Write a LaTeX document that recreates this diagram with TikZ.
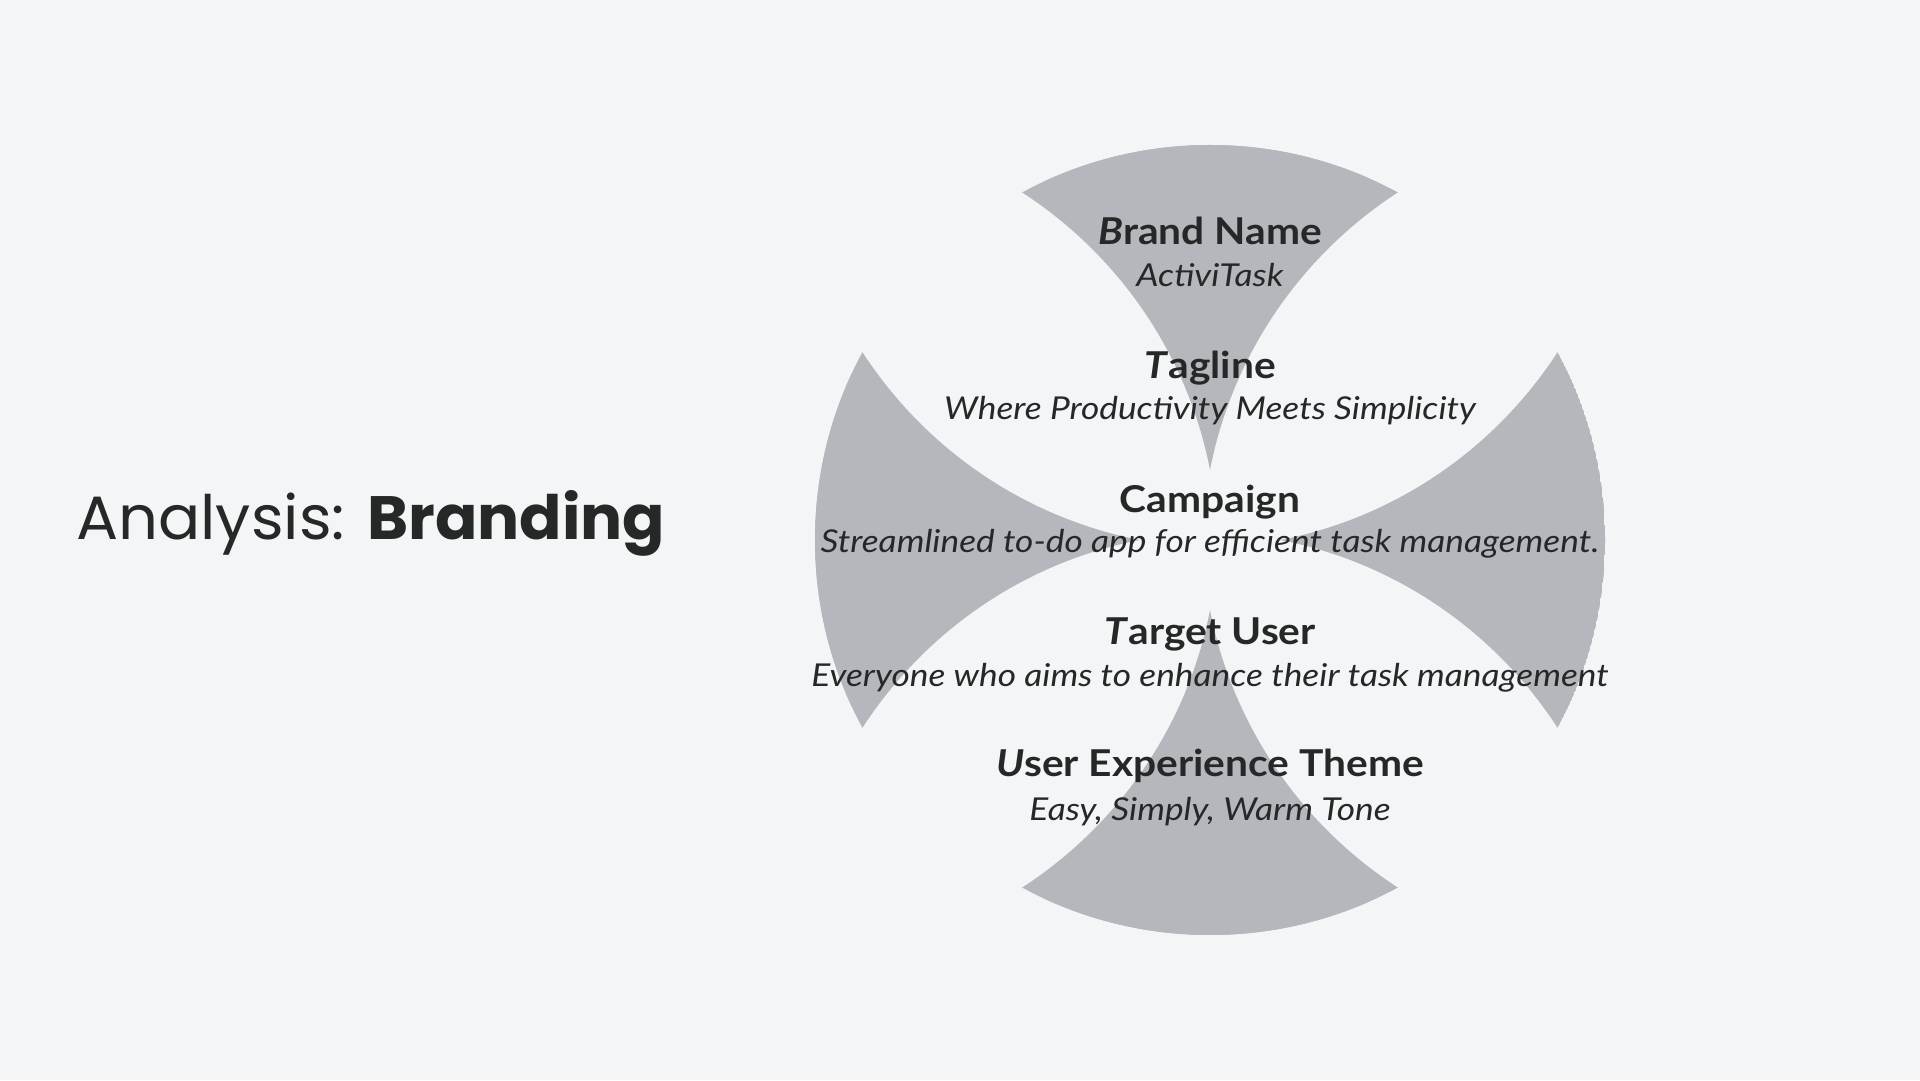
\documentclass[tikz,border=0pt]{standalone}
\usepackage{fontspec}
\usepackage{graphicx}
\setmainfont{Lato}
\newfontfamily\headfont{Lato}[FakeStretch=1.10]
\newfontfamily\valfont{Lato}[FakeStretch=1.12]
\newfontfamily\titlefont{Poppins}
\definecolor{bg}{HTML}{F4F5F7}
\definecolor{armgrey}{HTML}{B4B8BD}
\definecolor{ink}{HTML}{262828}
\tikzset{
  head/.style={anchor=base, text=ink, inner sep=0pt, font=\headfont\fontsize{37}{40}\selectfont\bfseries},
  val/.style={anchor=base, text=ink, inner sep=0pt, font=\valfont\fontsize{31.5}{34}\selectfont\itshape}
}
\newcommand\armpiece[4]{%
  \begin{scope}[even odd rule]
    \clip (C) circle (395);
    \clip (-600,-600) rectangle (2600,1700) (#1,#2) circle (428.2);
    \clip (-600,-600) rectangle (2600,1700) (#3,#4) circle (428.2);
    \fill[armgrey] (C) circle (395);
  \end{scope}}
\begin{document}
\begin{tikzpicture}[x=1pt,y=1pt]
\useasboundingbox (0,0) rectangle (1920,1080);
\fill[bg] (0,0) rectangle (1920,1080);
\coordinate (C) at (1210,540);
% vertical arms (top and bottom)
\armpiece{1630.3}{527.9}{789.7}{527.9}
\armpiece{1630.3}{552.1}{789.7}{552.1}
% horizontal arms (left and right)
\armpiece{1222.1}{960.3}{1222.1}{119.7}
\armpiece{1197.9}{960.3}{1197.9}{119.7}
% title
\node[anchor=base west, inner sep=0pt, text=ink] (title) at (76,540)
  {\resizebox{589pt}{49pt}{\titlefont Analysis: \textbf{Branding}}};
% texts
\node[head] (brand)   at (1210,835.7) {\textit{B}rand Name};
\node[val]  (brandv)  at (1210,793.3) {ActiviTask};
\node[head] (tag)     at (1210,701.7) {\textit{T}agline};
\node[val]  (tagv)    at (1210,660.7) {Where Productivity Meets Simplicity};
\node[head] (camp)    at (1210,567.3) {Campaign};
\node[val]  (campv)   at (1210,527.3) {Streamlined to-do app for efficient task management.};
\node[head] (target)  at (1210,435.7) {\textit{T}arget User};
\node[val]  (targetv) at (1210,393.3) {Everyone who aims to enhance their task management};
\node[head] (ux)      at (1210,303.3) {\textit{U}ser Experience Theme};
\node[val]  (uxv)     at (1210,260.0) {Easy, Simply, Warm Tone};
\end{tikzpicture}
\end{document}
